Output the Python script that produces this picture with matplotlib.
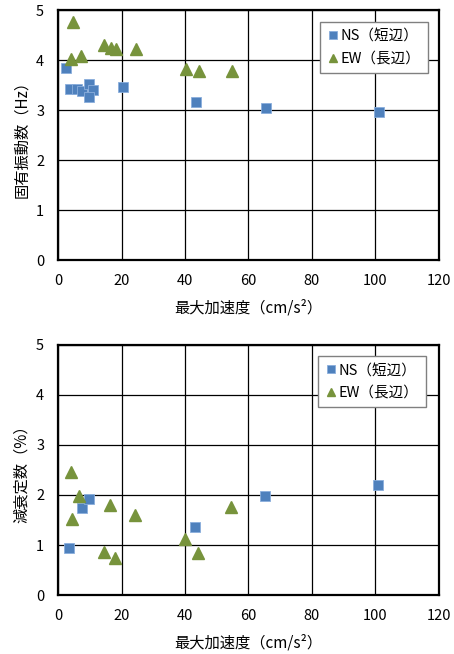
import matplotlib
matplotlib.use("Agg")
import matplotlib.pyplot as plt

plt.rcParams['font.family'] = ['Noto Sans CJK JP', 'DejaVu Sans']

# 固有振動数 (上段)
ns_x_f = [2.4, 3.8, 5.9, 7.7, 9.9, 11.1, 9.9, 20.6, 43.4, 65.4, 101.1]
ns_y_f = [3.85, 3.43, 3.43, 3.38, 3.53, 3.40, 3.27, 3.46, 3.17, 3.05, 2.96]
ew_x_f = [4.6, 4.0, 7.1, 14.6, 16.6, 18.2, 24.6, 40.3, 44.3, 54.8]
ew_y_f = [4.76, 4.02, 4.08, 4.30, 4.24, 4.22, 4.22, 3.83, 3.78, 3.78]

# 減衰定数 (下段)
ns_x_d = [3.6, 7.6, 9.8, 43.0, 65.2, 100.7]
ns_y_d = [0.94, 1.74, 1.92, 1.37, 1.97, 2.19]
ew_x_d = [4.0, 4.5, 6.7, 14.5, 16.4, 17.9, 24.4, 40.1, 44.0, 54.6]
ew_y_d = [2.46, 1.53, 1.97, 0.86, 1.81, 0.75, 1.60, 1.12, 0.85, 1.77]

x_ticks = [0, 20, 40, 60, 80, 100, 120]
y_ticks = [0, 1, 2, 3, 4, 5]

blue = '#4F81BD'
green = '#77933C'

fig = plt.figure(figsize=(4.54, 6.54), dpi=100)
ax1 = fig.add_axes([0.1278, 0.6024, 0.839, 0.3823])
ax2 = fig.add_axes([0.1278, 0.0902, 0.839, 0.3823])


def style(ax, ylabel):
    ax.set_xlim(0, 120)
    ax.set_ylim(0, 5)
    ax.set_xticks(x_ticks)
    ax.set_yticks(y_ticks)
    ax.grid(True, color='black', linewidth=0.9)
    ax.set_axisbelow(True)
    for s in ax.spines.values():
        s.set_linewidth(1.6)
        s.set_color('black')
    ax.tick_params(length=0, labelsize=10.5, pad=10)
    ax.set_xlabel('最大加速度（cm/s²）', fontsize=11, labelpad=8)
    ax.set_ylabel(ylabel, fontsize=11, labelpad=4)


ax1.plot(ns_x_f, ns_y_f, 's', color=blue, markeredgecolor='#8AAEDC',
         markeredgewidth=0.6, markersize=7.5, label='NS（短辺）', zorder=3)
ax1.plot(ew_x_f, ew_y_f, '^', color=green, markeredgecolor=green,
         markersize=8, label='EW（長辺）', zorder=3)
style(ax1, '固有振動数（Hz）')

ax2.plot(ns_x_d, ns_y_d, 's', color=blue, markeredgecolor='#8AAEDC',
         markeredgewidth=0.6, markersize=7.5, label='NS（短辺）', zorder=3)
ax2.plot(ew_x_d, ew_y_d, '^', color=green, markeredgecolor=green,
         markersize=8, label='EW（長辺）', zorder=3)
style(ax2, '減衰定数（%）')

for ax, anchor in [(ax1, (0.971, 0.953)), (ax2, (0.966, 0.956))]:
    leg = ax.legend(loc='upper right', bbox_to_anchor=anchor, borderaxespad=0,
                    fancybox=False, framealpha=1, edgecolor='#808080',
                    fontsize=10.5, handlelength=0.7, handletextpad=0.2,
                    markerscale=0.75, borderpad=0.5, labelspacing=0.6)
    leg.get_frame().set_linewidth(1.0)

fig.savefig('out.png', dpi=100)
